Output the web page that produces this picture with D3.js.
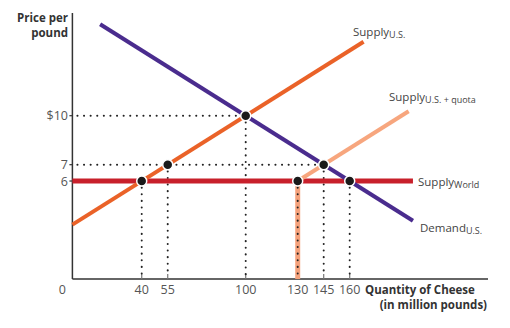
<!DOCTYPE html>
<html><head><meta charset="utf-8">
<script src="https://cdn.jsdelivr.net/npm/d3@7"></script>
<style>body{margin:0;background:#fff}svg{display:block}text{font-family:"Open Sans","DejaVu Sans",sans-serif}</style>
</head><body>
<script>
// Data
const xTicks = [0, 40, 55, 100, 130, 145, 160];
const yTicks = [6, 7, 10];
const yTickLabels = ["6", "7", "$10"];
const demandUS = [[16, 15.6], [196.5, 3.57]];
const supplyUS = [[0, 3.333], [168, 14.53]];
const supplyQuota = [[130, 6], [194, 10.27]];
const supplyWorld = [[0, 6], [196.5, 6]];
const quotaLimit = [[130, 0], [130, 6]];
const points = [[40, 6], [55, 7], [100, 10], [130, 6], [145, 7], [160, 6]];
const hGuides = [[100, 10], [145, 7]];
const vGuides = [[40, 6], [55, 7], [100, 10], [130, 6], [145, 7], [160, 6]];

const W = 510, H = 328;
const svg = d3.select("body").append("svg").attr("width", W).attr("height", H);
const x = d3.scaleLinear().domain([0, 160]).range([72.4, 349.7]);
const y = d3.scaleLinear().domain([0, 10]).range([279, 115.7]);
const line = d3.line().x(d => x(d[0])).y(d => y(d[1]));

// Axes
const g = svg.append("g");
g.append("line").attr("x1", x(0)).attr("x2", x(0)).attr("y1", 13).attr("y2", y(0))
  .attr("stroke", "#333").attr("stroke-width", 1.5);
g.append("line").attr("x1", x(0)).attr("x2", 488).attr("y1", y(0)).attr("y2", y(0))
  .attr("stroke", "#333").attr("stroke-width", 1.5);

// x ticks
xTicks.filter(d => d > 0).forEach(d => {
  g.append("line").attr("x1", x(d)).attr("x2", x(d)).attr("y1", y(0)).attr("y2", y(0) - 5)
    .attr("stroke", "#777").attr("stroke-width", 1.2);
});
xTicks.forEach(d => {
  g.append("text").attr("x", d === 0 ? x(0) - 10 : x(d)).attr("y", 293.5)
    .attr("text-anchor", "middle").attr("font-size", 12.5).attr("fill", "#555").text(d);
});
yTicks.forEach((d, i) => {
  g.append("line").attr("x1", x(0) - 3).attr("x2", x(0)).attr("y1", y(d)).attr("y2", y(d))
    .attr("stroke", "#333").attr("stroke-width", 1.2);
  g.append("text").attr("x", 68).attr("y", y(d) + 4.5).attr("text-anchor", "end")
    .attr("font-size", 12.5).attr("fill", "#555").text(yTickLabels[i]);
});

// axis titles
g.append("text").attr("x", 68).attr("y", 22).attr("text-anchor", "end").attr("font-size", 11.5)
  .attr("font-weight", "bold").attr("fill", "#333").text("Price per");
g.append("text").attr("x", 68).attr("y", 37).attr("text-anchor", "end").attr("font-size", 11.5)
  .attr("font-weight", "bold").attr("fill", "#333").text("pound");
g.append("text").attr("x", 365).attr("y", 293.5).attr("font-size", 11.5)
  .attr("font-weight", "bold").attr("fill", "#333").text("Quantity of Cheese");
g.append("text").attr("x", 487).attr("y", 309).attr("text-anchor", "end").attr("font-size", 11.5)
  .attr("font-weight", "bold").attr("fill", "#333").text("(in million pounds)");

// quota vertical bar
svg.append("path").attr("d", line(quotaLimit)).attr("stroke", "#F5A27C").attr("stroke-width", 5).attr("fill", "none");

// dotted guides
const dot = sel => sel.attr("stroke", "#222").attr("stroke-width", 2)
  .attr("stroke-dasharray", "0.1,6.5").attr("stroke-linecap", "round").attr("fill", "none");
hGuides.forEach(p => dot(svg.append("line").attr("x1", x(0) + 5).attr("x2", x(p[0])).attr("y1", y(p[1])).attr("y2", y(p[1]))));
vGuides.forEach(p => dot(svg.append("line").attr("x1", x(p[0])).attr("x2", x(p[0])).attr("y1", y(p[1])).attr("y2", y(0) - 4)));

// curves
svg.append("path").attr("d", line(supplyWorld)).attr("stroke", "#C8202B").attr("stroke-width", 5).attr("fill", "none");
svg.append("path").attr("d", line(supplyQuota)).attr("stroke", "#F7A67E").attr("stroke-width", 4).attr("fill", "none");
svg.append("path").attr("d", line(demandUS)).attr("stroke", "#4A2C8E").attr("stroke-width", 4).attr("fill", "none");
svg.append("path").attr("d", line(supplyUS)).attr("stroke", "#EA6228").attr("stroke-width", 4).attr("fill", "none");

// points
svg.selectAll("circle.pt").data(points).join("circle").attr("class", "pt")
  .attr("cx", d => x(d[0])).attr("cy", d => y(d[1])).attr("r", 5)
  .attr("fill", "#1a1a1a").attr("stroke", "#fff").attr("stroke-width", 1.5);

// curve labels
function label(xp, yp, main, sub) {
  const t = svg.append("text").attr("x", xp).attr("y", yp).attr("font-size", 11.5).attr("fill", "#444");
  t.append("tspan").text(main);
  t.append("tspan").attr("font-size", 9).attr("dy", 2).text(sub);
}
label(353, 36, "Supply", "U.S.");
label(389, 101, "Supply", "U.S. + quota");
label(418, 186, "Supply", "World");
label(420, 232, "Demand", "U.S.");
</script>
</body></html>
